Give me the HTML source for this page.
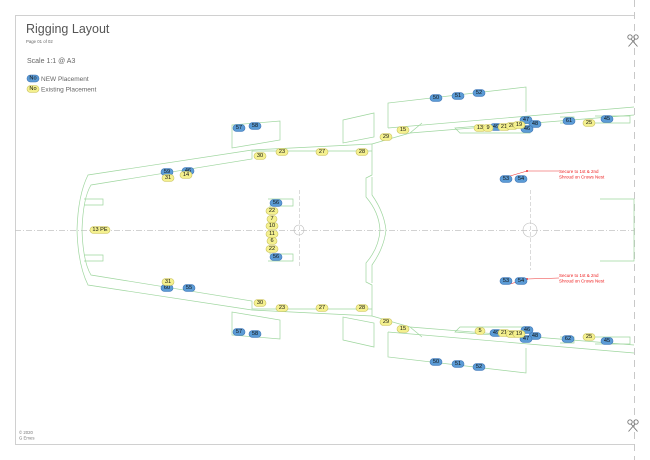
<!DOCTYPE html>
<html><head><meta charset="utf-8"><style>
html,body{margin:0;padding:0;background:#fff;width:650px;height:460px;overflow:hidden}
svg{display:block;font-family:"Liberation Sans",sans-serif}
.b rect{fill:#5b9bd5;stroke:#3f74b5;stroke-width:.6}
.y rect{fill:#f4f08e;stroke:#c9c163;stroke-width:.6}
.p text{font-size:5.6px;fill:#111;text-anchor:middle;dominant-baseline:central}
.h{fill:none;stroke:#9fd69f;stroke-width:.7}
.sc{fill:none;stroke:#777;stroke-width:.9}
</style></head><body>
<svg width="650" height="460" viewBox="0 0 650 460">
<!-- frame -->
<path d="M15.5 444 V15.5 H634" fill="none" stroke="#d0d0d0" stroke-width="1"/>
<path d="M15 444.5 H634" stroke="#d0d0d0" stroke-width="1"/>
<path d="M634.5 0 V460" stroke="#bbb" stroke-width=".8" stroke-dasharray="7,5"/>
<path d="M15 230.5 H634" stroke="#c4c4c4" stroke-width=".7" stroke-dasharray="6,2,1,2"/>
<path d="M299.5 190 V268 M530.5 190 V270" stroke="#c4c4c4" stroke-width=".6" stroke-dasharray="4,2"/>
<circle cx="299" cy="230" r="5" fill="none" stroke="#bbb" stroke-width=".6"/>
<circle cx="530" cy="230" r="7" fill="none" stroke="#bbb" stroke-width=".6"/>

<text x="26" y="33" font-size="12.5" fill="#555">Rigging Layout</text>
<text x="26" y="43" font-size="4.3" fill="#666">Page 01 of 02</text>
<text x="27" y="63" font-size="7" fill="#666">Scale 1:1 @ A3</text>
<g class="p b"><rect x="27" y="75" width="12" height="7" rx="3.5"/><text x="33" y="78.7">No</text></g>
<text x="41" y="81" font-size="6.5" fill="#666">NEW Placement</text>
<g class="p y"><rect x="27" y="85.5" width="12" height="7" rx="3.5"/><text x="33" y="89.2">No</text></g>
<text x="41" y="91.5" font-size="6.5" fill="#666">Existing Placement</text>
<text x="19" y="434" font-size="4.3" fill="#777">© 2020</text>
<text x="19" y="439.5" font-size="4.3" fill="#777">G Emes</text>
<g id="sc" class="sc">
<circle cx="630" cy="37" r="2.2"/><circle cx="636" cy="37" r="2.2"/>
<path d="M631 39 L637.5 46.5 M635 39 L628.5 46.5"/>
</g>
<use href="#sc" transform="translate(0,385)"/>

<!-- hull top half -->
<g id="hull" class="h">
<path d="M77 230 Q78 195 88 175 L252 150 L372 144"/>
<path d="M82 230 Q83 198 91 185 L252 159 V151 L372 151"/>
<path d="M372 144 V175 L366 178 V197 Q379 212 380 230"/>
<path d="M372 177 V195 Q384 212 386 230"/>
<path d="M84 199 H103 V205 H84"/>
<path d="M268 199 H293 V206 H270 V212"/>
<path d="M232 125 L280 121 V140 L232 148 Z"/>
<path d="M343 120 L374 113 V137 L343 143 Z"/>
<path d="M372 144 L410 133 L634 115"/>
<path d="M388 128 L634 107"/>
<path d="M410 133 L422 123"/>
<path d="M388 128 V103 L526 87 V112"/>
<path d="M455 128 L530 122 V133 L460 133 Z"/>
<path d="M560 117 H574 V123 H560 M595 116 H630 V123 H595"/>
<path d="M600 199 H634 V230"/>
</g>
<use href="#hull" transform="translate(0,460) scale(1,-1)"/>

<!-- red annotation -->
<path d="M510 176 L527 171 L559 171 M510 284 L527 279 L559 278" stroke="#e33" stroke-width=".6" fill="none"/>
<circle cx="527" cy="171" r="1" fill="#e33"/><circle cx="527" cy="279" r="1" fill="#e33"/>
<g font-size="4.5" fill="#e22">
<text x="559" y="173">Secure to 1st &amp; 2nd</text><text x="559" y="178.5">Shroud on Crows Nest</text>
<text x="559" y="277">Secure to 1st &amp; 2nd</text><text x="559" y="282.5">Shroud on Crows Nest</text>
</g>

<!-- labels -->
<g class="p b">
<rect x="233" y="124.5" width="12" height="7" rx="3.5"/><text x="239" y="128">57</text>
<rect x="249" y="122.5" width="12" height="7" rx="3.5"/><text x="255" y="126">58</text>
<rect x="161" y="168.5" width="12" height="7" rx="3.5"/><text x="167" y="172">59</text>
<rect x="182" y="167.5" width="12" height="7" rx="3.5"/><text x="188" y="171">46</text>
<rect x="270" y="199.5" width="12" height="7" rx="3.5"/><text x="276" y="203">56</text>
<rect x="270" y="253.5" width="12" height="7" rx="3.5"/><text x="276" y="257">56</text>
<rect x="430" y="94.5" width="12" height="7" rx="3.5"/><text x="436" y="98">50</text>
<rect x="452" y="92.5" width="12" height="7" rx="3.5"/><text x="458" y="96">51</text>
<rect x="473" y="89.5" width="12" height="7" rx="3.5"/><text x="479" y="93">52</text>
<rect x="490" y="123.5" width="12" height="7" rx="3.5"/><text x="496" y="127">49</text>
<rect x="520" y="116.5" width="12" height="7" rx="3.5"/><text x="526" y="120">47</text>
<rect x="529" y="120.5" width="12" height="7" rx="3.5"/><text x="535" y="124">48</text>
<rect x="521" y="125.5" width="12" height="7" rx="3.5"/><text x="527" y="129">46</text>
<rect x="563" y="117.5" width="12" height="7" rx="3.5"/><text x="569" y="121">61</text>
<rect x="601" y="115.5" width="12" height="7" rx="3.5"/><text x="607" y="119">45</text>
<rect x="500" y="175.5" width="12" height="7" rx="3.5"/><text x="506" y="179">53</text>
<rect x="515" y="175.5" width="12" height="7" rx="3.5"/><text x="521" y="179">54</text>
<rect x="500" y="277.5" width="12" height="7" rx="3.5"/><text x="506" y="281">53</text>
<rect x="515" y="277.5" width="12" height="7" rx="3.5"/><text x="521" y="281">54</text>
<rect x="161" y="284.5" width="12" height="7" rx="3.5"/><text x="167" y="288">60</text>
<rect x="183" y="284.5" width="12" height="7" rx="3.5"/><text x="189" y="288">55</text>
<rect x="233" y="328.5" width="12" height="7" rx="3.5"/><text x="239" y="332">57</text>
<rect x="249" y="330.5" width="12" height="7" rx="3.5"/><text x="255" y="334">58</text>
<rect x="430" y="358.5" width="12" height="7" rx="3.5"/><text x="436" y="362">50</text>
<rect x="452" y="360.5" width="12" height="7" rx="3.5"/><text x="458" y="364">51</text>
<rect x="473" y="363.5" width="12" height="7" rx="3.5"/><text x="479" y="367">52</text>
<rect x="490" y="329.5" width="12" height="7" rx="3.5"/><text x="496" y="333">49</text>
<rect x="521" y="326.5" width="12" height="7" rx="3.5"/><text x="527" y="330">46</text>
<rect x="529" y="332.5" width="12" height="7" rx="3.5"/><text x="535" y="336">48</text>
<rect x="520" y="335.5" width="12" height="7" rx="3.5"/><text x="526" y="339">47</text>
<rect x="562" y="335.5" width="12" height="7" rx="3.5"/><text x="568" y="339">62</text>
<rect x="601" y="337.5" width="12" height="7" rx="3.5"/><text x="607" y="341">45</text>
</g>
<g class="p y">
<rect x="254" y="152.5" width="12" height="7" rx="3.5"/><text x="260" y="156">30</text>
<rect x="276" y="148.5" width="12" height="7" rx="3.5"/><text x="282" y="152">23</text>
<rect x="316" y="148.5" width="12" height="7" rx="3.5"/><text x="322" y="152">27</text>
<rect x="356" y="148.5" width="12" height="7" rx="3.5"/><text x="362" y="152">28</text>
<rect x="162" y="174.5" width="12" height="7" rx="3.5"/><text x="168" y="178">31</text>
<rect x="180" y="171.5" width="12" height="7" rx="3.5"/><text x="186" y="175">14</text>
<rect x="266" y="207.5" width="12" height="7" rx="3.5"/><text x="272" y="211">22</text>
<rect x="267" y="215.5" width="10" height="7" rx="3.5"/><text x="272" y="219">7</text>
<rect x="266" y="222.5" width="12" height="7" rx="3.5"/><text x="272" y="226">10</text>
<rect x="266" y="230.5" width="12" height="7" rx="3.5"/><text x="272" y="234">11</text>
<rect x="267" y="237.5" width="10" height="7" rx="3.5"/><text x="272" y="241">6</text>
<rect x="266" y="245.5" width="12" height="7" rx="3.5"/><text x="272" y="249">22</text>
<rect x="90" y="226.5" width="20" height="7" rx="3.5"/><text x="100" y="230">13 PE</text>
<rect x="380" y="133.5" width="12" height="7" rx="3.5"/><text x="386" y="137">29</text>
<rect x="397" y="126.5" width="12" height="7" rx="3.5"/><text x="403" y="130">15</text>
<rect x="474" y="124.5" width="12" height="7" rx="3.5"/><text x="480" y="128">13</text>
<rect x="483" y="124.5" width="10" height="7" rx="3.5"/><text x="488" y="128">9</text>
<rect x="498" y="123.5" width="12" height="7" rx="3.5"/><text x="504" y="127">21</text>
<rect x="506" y="122.5" width="12" height="7" rx="3.5"/><text x="512" y="126">20</text>
<rect x="513" y="121.5" width="12" height="7" rx="3.5"/><text x="519" y="125">19</text>
<rect x="583" y="119.5" width="12" height="7" rx="3.5"/><text x="589" y="123">25</text>
<rect x="162" y="278.5" width="12" height="7" rx="3.5"/><text x="168" y="282">31</text>
<rect x="254" y="299.5" width="12" height="7" rx="3.5"/><text x="260" y="303">30</text>
<rect x="276" y="304.5" width="12" height="7" rx="3.5"/><text x="282" y="308">23</text>
<rect x="316" y="304.5" width="12" height="7" rx="3.5"/><text x="322" y="308">27</text>
<rect x="356" y="304.5" width="12" height="7" rx="3.5"/><text x="362" y="308">28</text>
<rect x="380" y="318.5" width="12" height="7" rx="3.5"/><text x="386" y="322">29</text>
<rect x="397" y="325.5" width="12" height="7" rx="3.5"/><text x="403" y="329">15</text>
<rect x="475" y="327.5" width="10" height="7" rx="3.5"/><text x="480" y="331">5</text>
<rect x="498" y="329.5" width="12" height="7" rx="3.5"/><text x="504" y="333">21</text>
<rect x="506" y="330.5" width="12" height="7" rx="3.5"/><text x="512" y="334">20</text>
<rect x="513" y="330.5" width="12" height="7" rx="3.5"/><text x="519" y="334">19</text>
<rect x="583" y="333.5" width="12" height="7" rx="3.5"/><text x="589" y="337">25</text>
</g>
</svg>
</body></html>
